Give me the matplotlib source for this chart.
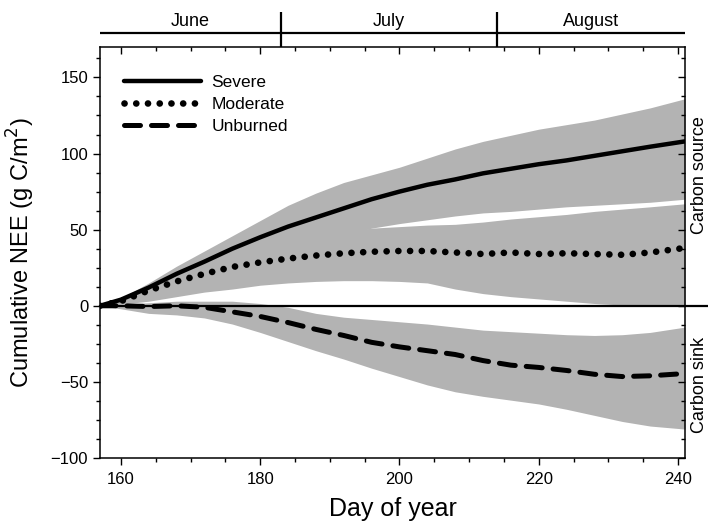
"""
Cumulative NEE by burn severity, June-August, with uncertainty bands
and a month strip above the day-of-year axis.
"""
import matplotlib
matplotlib.use("Agg")
import matplotlib.pyplot as plt
from matplotlib.ticker import MultipleLocator

plt.rcParams["font.family"] = ["Liberation Sans", "DejaVu Sans"]

# -- Data --------------------------------------------------------------------
days = [157, 160, 164, 168, 172, 176, 180, 184, 188, 192, 196,
        200, 204, 208, 212, 216, 220, 224, 228, 232, 236, 241]

severe = [0, 4, 12, 21, 29, 37.5, 45, 52, 58, 64, 70,
          75, 79.5, 83, 87, 90, 93, 95.5, 98.5, 101.5, 104.5, 108]
severe_hi = [0, 5, 15, 26, 36, 46, 56, 66, 74, 81, 86,
             91, 97, 103, 108, 112, 116, 119, 122, 126, 130, 136]
severe_lo = [0, 2, 6, 11, 16, 22, 28, 34, 40, 46, 51,
             54, 56.5, 59, 61, 62, 63.5, 65, 66, 67, 68, 70]

moderate = [0, 3, 10, 16, 21, 25.5, 28.5, 31, 33, 34.5, 35.5,
            36, 36, 35, 34, 35, 34, 34.5, 34, 33.5, 35, 38]
moderate_hi = [0, 4, 13, 21, 28, 34, 39, 43, 46, 49, 51,
               52, 53, 53.5, 55, 57, 58.5, 60, 62, 63.5, 65, 67]
moderate_lo = [0, 1, 3, 6, 9, 11, 13.5, 15, 16, 16.5, 16.5,
               16, 15, 11, 8, 6, 4.5, 3, 1.5, 0.5, 0, -0.5]

unburned = [0, 0, -0.5, 0, -1, -4, -7, -11, -15.5, -19.5, -24,
            -27, -29.5, -32, -36, -39, -40.5, -42.5, -45, -46.5, -46, -44.5]
unburned_hi = [0, 1, 2, 3, 3, 3, 1.5, -1, -5, -7.5, -9,
               -10.5, -12, -14, -16, -17, -18, -19, -19.5, -19, -17.5, -14]
unburned_lo = [0, -2, -5, -6, -8, -12, -17.5, -23.5, -29.5, -35, -41,
               -46.5, -52, -56.5, -59.5, -62, -64.5, -68, -72, -76, -79, -81]

months = ["June", "July", "August"]
month_starts = [157, 183, 214, 241]   # day-of-year boundaries (leap year)

# -- Style ---------------------------------------------------------------------
C_BAND = "#b3b3b3"
C_INK = "black"

fig = plt.figure(figsize=(7.08, 5.25), dpi=100, facecolor="white")
ax = fig.add_axes([0.1412, 0.1276, 0.8263, 0.7829])

for lo, hi in [(severe_lo, severe_hi), (moderate_lo, moderate_hi),
               (unburned_lo, unburned_hi)]:
    ax.fill_between(days, lo, hi, color=C_BAND, linewidth=0, zorder=1)

ax.axhline(0, xmin=0, xmax=1.04, color=C_INK, linewidth=1.6,
           clip_on=False, zorder=2)

ax.plot(days, severe, color=C_INK, linewidth=3.2, solid_capstyle="round",
        label="Severe", zorder=4)
ax.plot(days, moderate, color=C_INK, linewidth=4.8,
        linestyle=(0, (0.01, 1.75)), dash_capstyle="round",
        label="Moderate", zorder=4)
ax.plot(days, unburned, color=C_INK, linewidth=3.6,
        linestyle=(0, (3.2, 2.2)), dash_capstyle="round",
        label="Unburned", zorder=4)

ax.set_xlim(157, 241)
ax.set_ylim(-100, 170)
ax.xaxis.set_major_locator(MultipleLocator(20))
ax.xaxis.set_minor_locator(MultipleLocator(5))
ax.yaxis.set_major_locator(MultipleLocator(50))
ax.yaxis.set_minor_locator(MultipleLocator(12.5))
ax.tick_params(axis="both", which="both", colors=C_INK, labelsize=12,
               width=1.0, direction="out")
ax.tick_params(which="major", length=5)
ax.tick_params(which="minor", length=2.6)
ax.tick_params(axis="both", which="both", top=True, right=True)
ax.tick_params(axis="x", which="major", pad=5)
for spine in ax.spines.values():
    spine.set_linewidth(1.1)

# top and right ticks point inward, like the original frame
for t in ax.xaxis.get_major_ticks() + ax.xaxis.get_minor_ticks():
    t.tick2line.set_marker(3)
for t in ax.yaxis.get_major_ticks() + ax.yaxis.get_minor_ticks():
    t.tick2line.set_marker(0)

ax.set_xlabel("Day of year", fontsize=18, labelpad=7)
ax.set_ylabel("Cumulative NEE (g C/m$^2$)", fontsize=17, labelpad=10)

ax.text(1.024, 0.688, "Carbon source", transform=ax.transAxes, rotation=90,
        ha="center", va="center", fontsize=13)
ax.text(1.024, 0.178, "Carbon sink", transform=ax.transAxes, rotation=90,
        ha="center", va="center", fontsize=13)

ax.legend(loc="upper left", bbox_to_anchor=(0.03, 0.95), frameon=False,
          fontsize=12.5, handlelength=4.4, handletextpad=0.6,
          labelspacing=0.4, borderaxespad=0)

# -- Month strip ---------------------------------------------------------------
mx = fig.add_axes([0.1412, 0.9105, 0.8263, 0.0667])
mx.set_xlim(157, 241)
mx.set_ylim(0, 1)
mx.axis("off")
mx.axhline(0.4, color=C_INK, linewidth=1.6)
for d in month_starts[1:-1]:
    mx.axvline(d, ymin=0, ymax=1, color=C_INK, linewidth=1.6)
for name, a, b in zip(months, month_starts[:-1], month_starts[1:]):
    mx.text((a + b) / 2, 0.72, name, ha="center", va="center", fontsize=13)

fig.savefig("out.png", dpi=100, facecolor="white")
